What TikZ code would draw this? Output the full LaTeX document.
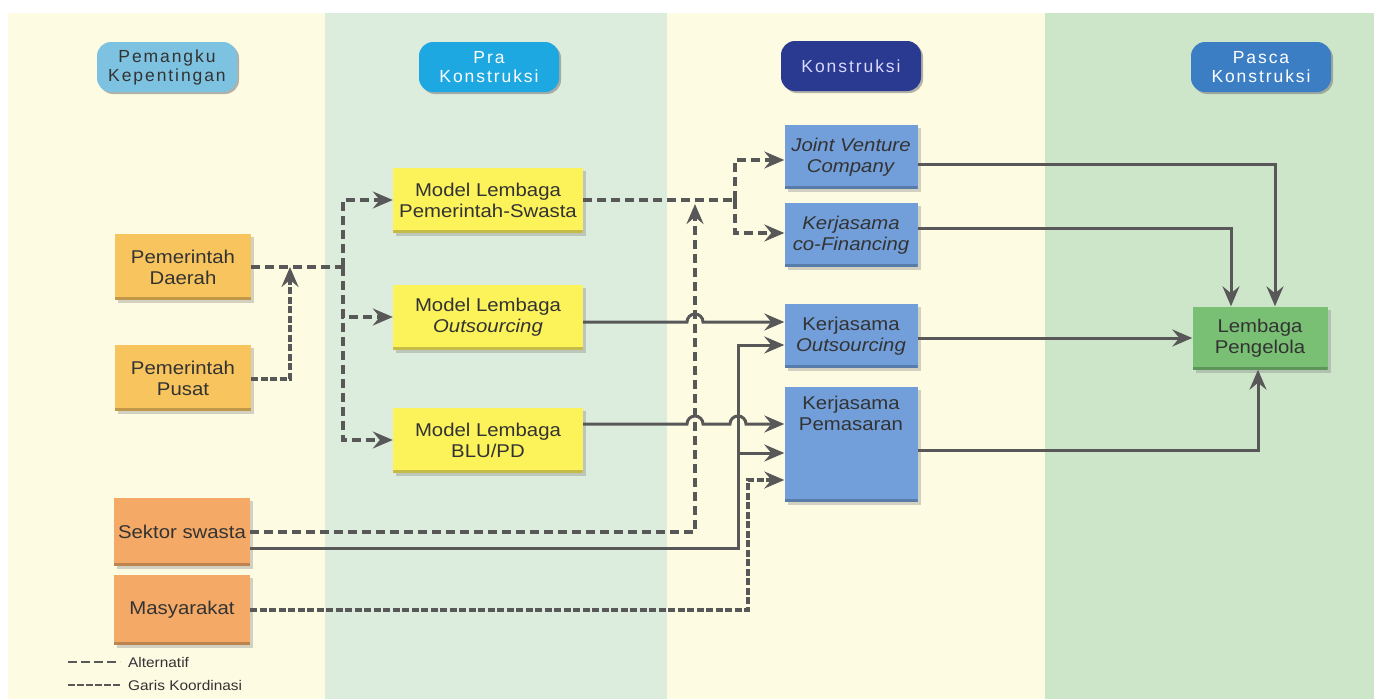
\documentclass[tikz,border=0pt]{standalone}
\usepackage{fontspec}
\setmainfont{Liberation Sans}[FakeStretch=1.1]
\newfontfamily\hdrfont{Liberation Sans}[LetterSpace=11]
\usepackage{tikz}
\usetikzlibrary{arrows.meta,shadows}

\definecolor{bgyellow}{HTML}{FEFBE3}
\definecolor{bggreen}{HTML}{DDEDDD}
\definecolor{bgpasca}{HTML}{CDE6CA}
\definecolor{lineg}{HTML}{585858}
\definecolor{txt}{HTML}{333333}
\definecolor{orangeA}{HTML}{F8C45E}
\definecolor{orangeB}{HTML}{F4AA66}
\definecolor{yellowbox}{HTML}{FCF25A}
\definecolor{bluebox}{HTML}{729FDA}
\definecolor{greenbox}{HTML}{79C074}
\definecolor{hdrA}{HTML}{7DC2E0}
\definecolor{hdrB}{HTML}{1DA8E1}
\definecolor{hdrC}{HTML}{2B3A91}
\definecolor{hdrD}{HTML}{3C7EC4}

\begin{document}
\begin{tikzpicture}[x=1pt,y=-1pt,line join=miter,
  >={Stealth[length=20pt,width=17pt,inset=7pt]},
  box/.style={rectangle,inner sep=2pt,align=center,text=txt,
    font=\fontsize{18.5}{21}\selectfont,
    drop shadow={shadow xshift=3pt,shadow yshift=-3pt,opacity=0.35},
    path picture={\fill[black,opacity=0.22]
      ([yshift=3pt]path picture bounding box.south west) rectangle
      (path picture bounding box.south east);}},
  leftbox/.style={box,minimum width=136pt,minimum height=66pt},
  modelbox/.style={box,fill=yellowbox,minimum width=190pt,minimum height=65pt},
  kbox/.style={box,fill=bluebox,minimum width=133pt,minimum height=64pt},
  hdr/.style={rounded corners=14pt,minimum width=140pt,minimum height=50pt,
    inner sep=2pt,align=center,font=\hdrfont\fontsize{17.5}{19}\selectfont,
    drop shadow={shadow xshift=2pt,shadow yshift=-2pt,opacity=0.6}},
  link/.style={draw=lineg,line width=3pt},
  alt/.style={draw=lineg,line width=3.2pt,dash pattern=on 9pt off 5pt},
  koord/.style={draw=lineg,line width=3.2pt,dash pattern=on 7pt off 2.5pt},
  legend/.style={anchor=west,inner sep=8pt,text=txt,font=\fontsize{14}{16}\selectfont}]

\useasboundingbox (0,0) rectangle (1374,699);
\fill[white] (0,0) rectangle (1374,699);
\fill[bgyellow] (8,13) rectangle (325,699);
\fill[bggreen] (325,13) rectangle (667,699);
\fill[bgyellow] (667,13) rectangle (1045,699);
\fill[bgpasca] (1045,13) rectangle (1374,699);

\node[hdr,fill=hdrA,text=txt] (hpk) at (167,67) {Pemangku\\Kepentingan};
\node[hdr,fill=hdrB,text=white] (hpra) at (489,67) {Pra\\Konstruksi};
\node[hdr,fill=hdrC,text=white!85!blue] (hkon) at (851,66) {Konstruksi};
\node[hdr,fill=hdrD,text=white] (hpas) at (1261,67) {Pasca\\Konstruksi};

\node[leftbox,fill=orangeA] (daerah) at (183,267) {Pemerintah\\Daerah};
\node[leftbox,fill=orangeA] (pusat) at (183,378) {Pemerintah\\Pusat};
\node[leftbox,fill=orangeB,minimum height=68pt] (swasta) at (182,532) {Sektor swasta};
\node[leftbox,fill=orangeB,minimum height=70pt] (masy) at (182,610) {Masyarakat};

\node[modelbox] (mps) at (488,200) {Model Lembaga\\Pemerintah-Swasta};
\node[modelbox] (mout) at (488,317) {Model Lembaga\\\textit{Outsourcing}};
\node[modelbox] (mblu) at (488,440) {Model Lembaga\\BLU/PD};

\node[kbox] (jv) at (851,157) {\textit{Joint Venture}\\\textit{Company}};
\node[kbox] (cof) at (851,235) {\textit{Kerjasama}\\\textit{co-Financing}};
\node[kbox] (kout) at (851,336) {Kerjasama\\\textit{Outsourcing}};
\node[kbox,minimum height=115pt,text height=42pt,text depth=69pt] (kpem) at (851,444) {Kerjasama\\Pemasaran};

\node[box,fill=greenbox,minimum width=135pt,minimum height=63pt] (lemb) at (1260,338) {Lembaga\\Pengelola};

\coordinate (jd) at (343,267);
\coordinate (jp) at (290,267);
\coordinate (jm) at (735,200);
\coordinate (js) at (695,204);
\coordinate (ko) at (738,345);
\coordinate (kb) at (738,453);
\coordinate (jmas) at (748,480);
\coordinate (hopa) at (687,322);
\coordinate (hopb) at (687,424);
\coordinate (hopc) at (730,424);

\draw[alt] (daerah.east) -- (jd);
\draw[alt,->] (jd) |- (mps.west);
\draw[alt,->] (jd) |- (mout.west);
\draw[alt,->] (jd) |- (mblu.west);
\draw[koord,->] ([yshift=-1pt]pusat.east) -| (jp);

\draw[alt] (mps.east) -- (jm);
\draw[alt,->] (jm) |- ([yshift=-3pt]jv.west);
\draw[alt,->] (jm) |- ([yshift=2pt]cof.west);

\draw[alt,->] (swasta.east) -| (js);
\draw[link,->] ([yshift=-16pt]swasta.east) -| (ko) -- (kout.west |- ko);
\draw[link,->] (kb) -- (kpem.west |- kb);
\draw[koord,->] (masy.east) -| (jmas) -- (kpem.west |- jmas);

\draw[link,->] ([yshift=-5pt]mout.east) -- (hopa)
  arc[start angle=180,end angle=360,radius=8] -- (kout.west |- hopa);
\draw[link,->] ([yshift=16pt]mblu.east) -- (hopb)
  arc[start angle=180,end angle=360,radius=8] -- (hopc)
  arc[start angle=180,end angle=360,radius=8] -- (kpem.west |- hopb);

\draw[link,->] ([yshift=-7pt]jv.east) -| ([xshift=15pt]lemb.north);
\draw[link,->] ([yshift=7pt]cof.east) -| ([xshift=-29pt]lemb.north);
\draw[link,->] ([yshift=-2pt]kout.east) -- (lemb.west);
\draw[link,->] ([yshift=-6pt]kpem.east) -| ([xshift=-2pt]lemb.south);

\coordinate (la) at (68,662);
\coordinate (lb) at (68,685);
\node[legend] (lalt) at (120,662) {Alternatif};
\node[legend] (lkoord) at (120,685) {Garis Koordinasi};
\draw[alt,line width=2.5pt,dash pattern=on 9pt off 4pt] (la) -- (lalt.west);
\draw[koord,line width=2.5pt,dash pattern=on 7pt off 2pt] (lb) -- (lkoord.west);
\end{tikzpicture}
\end{document}
